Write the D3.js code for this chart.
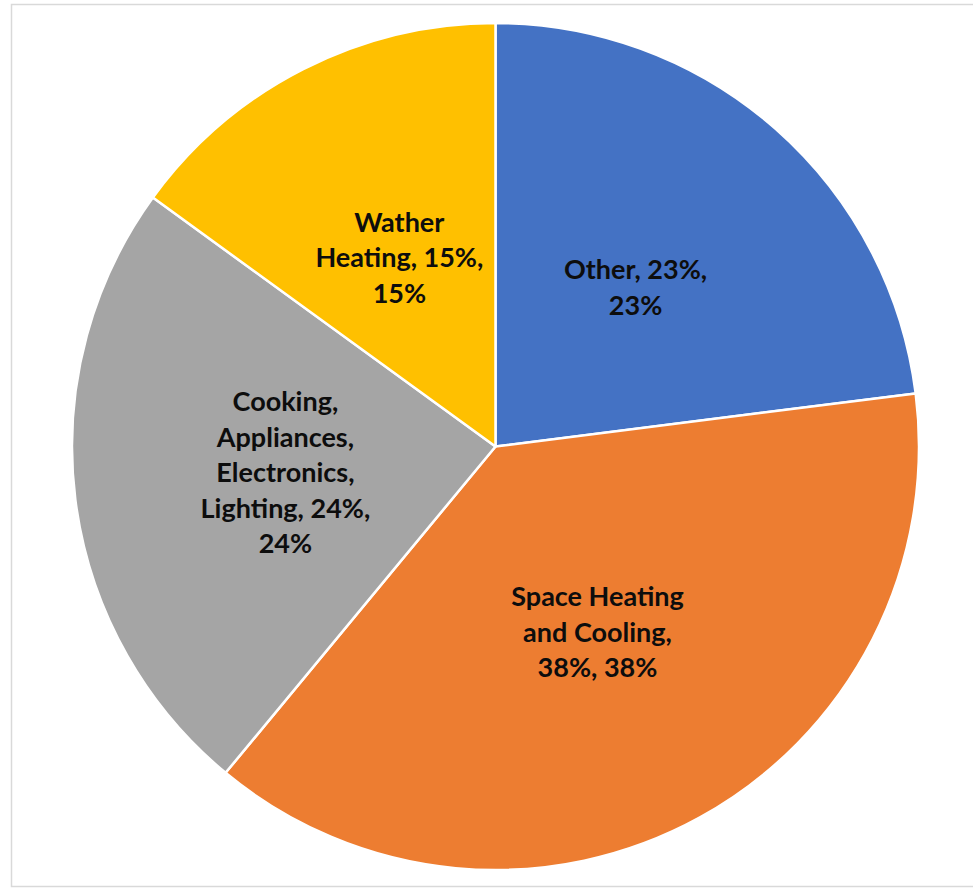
<!DOCTYPE html>
<html>
<head>
<meta charset="utf-8">
<script src="https://cdn.jsdelivr.net/npm/d3@7"></script>
<style>
    body { margin: 0; background: #ffffff; }
    svg { display: block; }
    .sliceLabel { font-family: Lato, "Open Sans", sans-serif; font-weight: bold; fill: #0d0d0d; }
</style>
</head>
<body>
<div id="plotSect"></div>
<script>
/* global d3 */

// chart data //
let categories = ["Other", "Space Heating and Cooling", "Cooking, Appliances, Electronics, Lighting", "Wather Heating"];
let shares = [23, 38, 24, 15];
let sliceColors = ["#4472C4", "#ED7D31", "#A5A5A5", "#FFC000"];
let labelLines = [
    ["Other, 23%,", "23%"],
    ["Space Heating", "and Cooling,", "38%, 38%"],
    ["Cooking,", "Appliances,", "Electronics,", "Lighting, 24%,", "24%"],
    ["Wather", "Heating, 15%,", "15%"]
];

// chart setup //
let SVGwidth = 973,
SVGheight = 891,
cx = 495.5,
cy = 446.5,
radius = 423.5,
lineHeight = 35.5;

let svg = d3.select("#plotSect").append("svg")
    .attr("width", SVGwidth)
    .attr("height", SVGheight);

// faint frame around the chart area
svg.append("rect")
    .attr("x", 11.5)
    .attr("y", 4.5)
    .attr("width", SVGwidth)
    .attr("height", 882)
    .style("fill", "none")
    .style("stroke", "#d9d9d9")
    .style("stroke-width", 1.5);

let pieData = categories.map(function(c, i) {
    return {name: c, value: shares[i], color: sliceColors[i], lines: labelLines[i]};
});

let pie = d3.pie()
    .sort(null)
    .value(function(d) { return d.value; });

let arc = d3.arc()
    .innerRadius(0)
    .outerRadius(radius);

let labelArc = d3.arc()
    .innerRadius(radius * 0.5)
    .outerRadius(radius * 0.5);

let g = svg.append("g")
    .attr("transform", "translate(" + cx + "," + cy + ")");

let slices = pie(pieData);

g.selectAll(".slice")
    .data(slices)
    .enter().append("path")
    .attr("class", "slice")
    .attr("d", arc)
    .style("fill", function(d) { return d.data.color; })
    .style("stroke", "#ffffff")
    .style("stroke-width", 2.5)
    .style("stroke-linejoin", "round");

let labels = g.selectAll(".sliceLabel")
    .data(slices)
    .enter().append("text")
    .attr("class", "sliceLabel")
    .attr("font-size", 27)
    .attr("text-anchor", "middle")
    .attr("transform", function(d) {
        let c = labelArc.centroid(d);
        return "translate(" + c[0] + "," + c[1] + ")";
    });

labels.selectAll("tspan")
    .data(function(d) { return d.data.lines; })
    .enter().append("tspan")
    .attr("x", 0)
    .attr("y", function(d, i, nodes) {
        let n = nodes.length;
        return (i - (n - 1) / 2) * lineHeight;
    })
    .attr("dy", "0.35em")
    .text(function(d) { return d; });
</script>
</body>
</html>
